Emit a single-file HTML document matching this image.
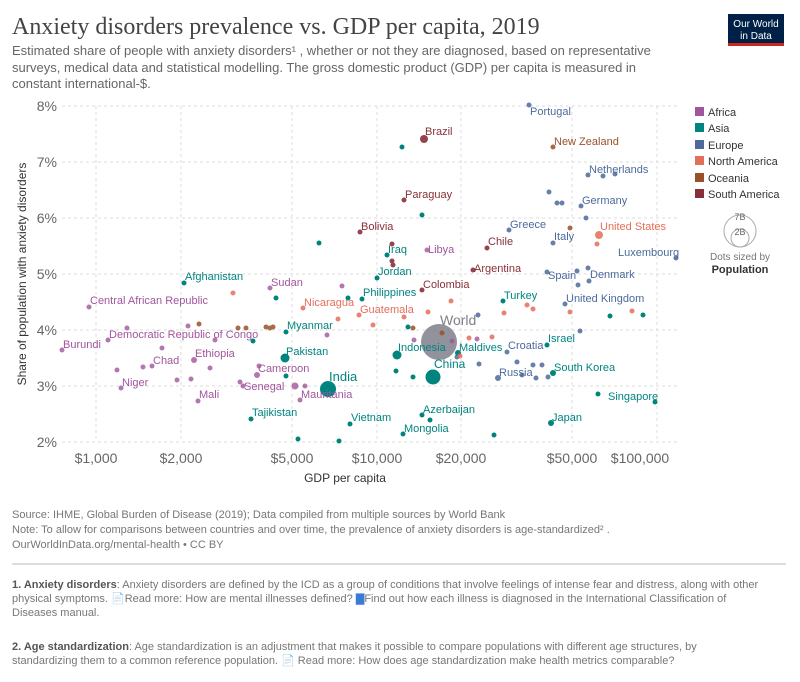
<!DOCTYPE html>
<html><head><meta charset="utf-8"><style>
body{margin:0;background:#fff;width:800px;height:677px;overflow:hidden;font-family:"Liberation Sans",sans-serif}
svg text{font-family:"Liberation Sans",sans-serif}
</style></head><body>
<svg width="800" height="677" viewBox="0 0 800 677" xmlns="http://www.w3.org/2000/svg">
<text x="12" y="34" style="font-family:'Liberation Serif',serif" font-size="24" fill="#444">Anxiety disorders prevalence vs. GDP per capita, 2019</text>
<text font-size="13" fill="#666"><tspan x="12" y="55">Estimated share of people with anxiety disorders¹ , whether or not they are diagnosed, based on representative</tspan><tspan x="12" y="72">surveys, medical data and statistical modelling. The gross domestic product (GDP) per capita is measured in</tspan><tspan x="12" y="88">constant international-$.</tspan></text>
<rect x="728" y="14" width="56" height="30" fill="#002147"/><rect x="728" y="43" width="56" height="3" fill="#ce261e"/>
<text x="756" y="27" font-size="10" fill="#fff" text-anchor="middle">Our World</text><text x="756" y="39" font-size="10" fill="#fff" text-anchor="middle">in Data</text>
<g stroke="#ddd" stroke-dasharray="3,3" stroke-width="1">
<line x1="62" x2="677" y1="106" y2="106"/><line x1="62" x2="677" y1="162" y2="162"/><line x1="62" x2="677" y1="218" y2="218"/><line x1="62" x2="677" y1="274" y2="274"/><line x1="62" x2="677" y1="330" y2="330"/><line x1="62" x2="677" y1="386" y2="386"/><line x1="62" x2="677" y1="442" y2="442"/>
<line x1="96" x2="96" y1="106" y2="442"/><line x1="181" x2="181" y1="106" y2="442"/><line x1="292" x2="292" y1="106" y2="442"/><line x1="377" x2="377" y1="106" y2="442"/><line x1="461" x2="461" y1="106" y2="442"/><line x1="572" x2="572" y1="106" y2="442"/><line x1="657" x2="657" y1="106" y2="442"/>
</g>
<g font-size="14" fill="#666" text-anchor="end"><text x="57" y="111">8%</text><text x="57" y="167">7%</text><text x="57" y="223">6%</text><text x="57" y="279">5%</text><text x="57" y="335">4%</text><text x="57" y="391">3%</text><text x="57" y="447">2%</text></g>
<g font-size="14" fill="#666" text-anchor="middle"><text x="96" y="463">$1,000</text><text x="181" y="463">$2,000</text><text x="292" y="463">$5,000</text><text x="377" y="463">$10,000</text><text x="461" y="463">$20,000</text><text x="572" y="463">$50,000</text><text x="640" y="463">$100,000</text></g>
<text x="345" y="482" font-size="12" fill="#333" text-anchor="middle">GDP per capita</text>
<text transform="translate(26,274) rotate(-90)" font-size="12" fill="#333" text-anchor="middle">Share of population with anxiety disorders</text>
<circle cx="439" cy="342" r="18" fill="#7f7f8c" opacity="0.85"/>
<g fill="#a2559c" opacity="0.8"><circle cx="89" cy="307" r="2.5"/><circle cx="62" cy="350" r="2.5"/><circle cx="121" cy="388" r="2.5"/><circle cx="152" cy="366" r="2.5"/><circle cx="108" cy="340" r="2.5"/><circle cx="194" cy="360" r="3"/><circle cx="198" cy="401" r="2.5"/><circle cx="243" cy="386" r="2.5"/><circle cx="257" cy="375" r="3"/><circle cx="300" cy="400" r="2.5"/><circle cx="270" cy="288" r="2.5"/><circle cx="427" cy="250" r="2.5"/><circle cx="127" cy="328" r="2.5"/><circle cx="143" cy="367" r="2.5"/><circle cx="162" cy="348" r="2.5"/><circle cx="117" cy="370" r="2.5"/><circle cx="177" cy="380" r="2.5"/><circle cx="191" cy="379" r="2.5"/><circle cx="188" cy="326" r="2.5"/><circle cx="215" cy="340" r="2.5"/><circle cx="210" cy="368" r="2.5"/><circle cx="240" cy="382" r="2.5"/><circle cx="259" cy="366" r="2.5"/><circle cx="295" cy="386" r="3.5"/><circle cx="305" cy="386" r="2.5"/><circle cx="327" cy="335" r="2.5"/><circle cx="342" cy="286" r="2.5"/><circle cx="414" cy="340" r="2.5"/><circle cx="452" cy="341" r="2.5"/><circle cx="477" cy="339" r="2.5"/></g>
<g fill="#00847e"><circle cx="184" cy="283" r="2.5"/><circle cx="286" cy="332" r="2.5"/><circle cx="285" cy="358" r="4.5"/><circle cx="286" cy="376" r="2.5"/><circle cx="328" cy="389" r="8"/><circle cx="251" cy="419" r="2.5"/><circle cx="350" cy="424" r="2.5"/><circle cx="298" cy="439" r="2.5"/><circle cx="339" cy="441" r="2.5"/><circle cx="253" cy="341" r="2.5"/><circle cx="276" cy="298" r="2.5"/><circle cx="348" cy="298" r="2.5"/><circle cx="362" cy="299" r="2.5"/><circle cx="319" cy="243" r="2.5"/><circle cx="377" cy="278" r="2.5"/><circle cx="387" cy="255" r="2.5"/><circle cx="397" cy="355" r="4.5"/><circle cx="396" cy="371" r="2.5"/><circle cx="433" cy="377" r="7.5"/><circle cx="422" cy="415" r="2.5"/><circle cx="403" cy="434" r="2.5"/><circle cx="430" cy="420" r="2.5"/><circle cx="494" cy="435" r="2.5"/><circle cx="551" cy="423" r="3"/><circle cx="598" cy="394" r="2.5"/><circle cx="655" cy="402" r="2.5"/><circle cx="553" cy="373" r="3"/><circle cx="547" cy="345" r="2.5"/><circle cx="503" cy="301" r="2.5"/><circle cx="402" cy="147" r="2.5"/><circle cx="422" cy="215" r="2.5"/><circle cx="458" cy="353" r="3"/><circle cx="413" cy="377" r="2.5"/><circle cx="610" cy="316" r="2.5"/><circle cx="643" cy="315" r="2.5"/><circle cx="408" cy="327" r="2.5"/></g>
<g fill="#4c6a9c" opacity="0.85"><circle cx="529" cy="105" r="2.5"/><circle cx="588" cy="175" r="2.5"/><circle cx="603" cy="176" r="2.5"/><circle cx="615" cy="174" r="2.5"/><circle cx="581" cy="206" r="2.5"/><circle cx="549" cy="192" r="2.5"/><circle cx="557" cy="203" r="2.5"/><circle cx="562" cy="203" r="2.5"/><circle cx="586" cy="218" r="2.5"/><circle cx="509" cy="230" r="2.5"/><circle cx="553" cy="243" r="2.5"/><circle cx="676" cy="258" r="2.5"/><circle cx="547" cy="272" r="2.5"/><circle cx="577" cy="271" r="2.5"/><circle cx="588" cy="268" r="2.5"/><circle cx="589" cy="281" r="2.5"/><circle cx="578" cy="285" r="2.5"/><circle cx="565" cy="304" r="2.5"/><circle cx="580" cy="331" r="2.5"/><circle cx="507" cy="352" r="2.5"/><circle cx="498" cy="378" r="3"/><circle cx="522" cy="375" r="2.5"/><circle cx="517" cy="362" r="2.5"/><circle cx="533" cy="365" r="2.5"/><circle cx="542" cy="365" r="2.5"/><circle cx="548" cy="377" r="2.5"/><circle cx="536" cy="378" r="2.5"/><circle cx="478" cy="315" r="2.5"/><circle cx="479" cy="364" r="2.5"/><circle cx="457" cy="357" r="2.5"/></g>
<g fill="#e56e5a" opacity="0.85"><circle cx="599" cy="235" r="4"/><circle cx="597" cy="244" r="2.5"/><circle cx="570" cy="312" r="2.5"/><circle cx="632" cy="311" r="2.5"/><circle cx="504" cy="313" r="2.5"/><circle cx="527" cy="305" r="2.5"/><circle cx="533" cy="309" r="2.5"/><circle cx="359" cy="315" r="2.5"/><circle cx="303" cy="308" r="2.5"/><circle cx="233" cy="293" r="2.5"/><circle cx="404" cy="317" r="2.5"/><circle cx="373" cy="325" r="2.5"/><circle cx="451" cy="301" r="2.5"/><circle cx="469" cy="338" r="2.5"/><circle cx="492" cy="337" r="2.5"/><circle cx="338" cy="319" r="2.5"/><circle cx="428" cy="312" r="2.5"/><circle cx="460" cy="356" r="2.5"/></g>
<g fill="#9a5129" opacity="0.85"><circle cx="553" cy="147" r="2.5"/><circle cx="570" cy="228" r="2.5"/><circle cx="270" cy="328" r="2.5"/><circle cx="246" cy="328" r="2.5"/><circle cx="273" cy="327" r="2.5"/><circle cx="266" cy="327" r="2.5"/><circle cx="238" cy="328" r="2.5"/><circle cx="199" cy="324" r="2.5"/><circle cx="442" cy="333" r="2.5"/><circle cx="413" cy="328" r="2.5"/></g>
<g fill="#883039" opacity="0.9"><circle cx="424" cy="139" r="4"/><circle cx="404" cy="200" r="2.5"/><circle cx="360" cy="232" r="2.5"/><circle cx="487" cy="248" r="2.5"/><circle cx="473" cy="270" r="2.5"/><circle cx="422" cy="290" r="2.5"/><circle cx="392" cy="244" r="2.5"/><circle cx="393" cy="265" r="2.5"/><circle cx="392" cy="261" r="2.5"/></g>
<g font-size="11">
<g fill="#a2559c"><text x="90" y="304">Central African Republic</text><text x="63" y="348">Burundi</text><text x="122" y="386">Niger</text><text x="153" y="364">Chad</text><text x="109" y="338">Democratic Republic of Congo</text><text x="195" y="357">Ethiopia</text><text x="199" y="398">Mali</text><text x="244" y="390">Senegal</text><text x="258" y="372">Cameroon</text><text x="301" y="398">Mauritania</text><text x="271" y="286">Sudan</text><text x="428" y="253">Libya</text></g>
<g fill="#00847e"><text x="185" y="280">Afghanistan</text><text x="287" y="329">Myanmar</text><text x="286" y="355">Pakistan</text><text x="329" y="381" font-size="13">India</text><text x="252" y="416">Tajikistan</text><text x="351" y="421">Vietnam</text><text x="388" y="253">Iraq</text><text x="378" y="275">Jordan</text><text x="363" y="296">Philippines</text><text x="398" y="351">Indonesia</text><text x="434" y="368" font-size="12">China</text><text x="423" y="413">Azerbaijan</text><text x="404" y="432">Mongolia</text><text x="552" y="421">Japan</text><text x="608" y="400">Singapore</text><text x="554" y="371">South Korea</text><text x="548" y="342">Israel</text><text x="504" y="299">Turkey</text><text x="459" y="351">Maldives</text></g>
<g fill="#4c6a9c"><text x="530" y="115">Portugal</text><text x="589" y="173">Netherlands</text><text x="582" y="204">Germany</text><text x="510" y="228">Greece</text><text x="554" y="240">Italy</text><text x="618" y="256">Luxembourg</text><text x="548" y="279">Spain</text><text x="590" y="278">Denmark</text><text x="566" y="302">United Kingdom</text><text x="508" y="349">Croatia</text><text x="499" y="376">Russia</text></g>
<g fill="#e56e5a"><text x="600" y="230">United States</text><text x="304" y="306">Nicaragua</text><text x="360" y="313">Guatemala</text></g>
<g fill="#9a5129"><text x="554" y="145">New Zealand</text></g>
<g fill="#883039"><text x="425" y="135">Brazil</text><text x="405" y="198">Paraguay</text><text x="361" y="230">Bolivia</text><text x="488" y="245">Chile</text><text x="474" y="272">Argentina</text><text x="423" y="288">Colombia</text></g>
<text x="440" y="325" font-size="14" fill="#7f7f8c">World</text>
</g>
<g font-size="11" fill="#333">
<rect x="695" y="107" width="9" height="9" fill="#a2559c"/><text x="708" y="116">Africa</text>
<rect x="695" y="123" width="9" height="9" fill="#00847e"/><text x="708" y="132">Asia</text>
<rect x="695" y="140" width="9" height="9" fill="#4c6a9c"/><text x="708" y="149">Europe</text>
<rect x="695" y="156" width="9" height="9" fill="#e56e5a"/><text x="708" y="165">North America</text>
<rect x="695" y="173" width="9" height="9" fill="#9a5129"/><text x="708" y="182">Oceania</text>
<rect x="695" y="189" width="9" height="9" fill="#883039"/><text x="708" y="198">South America</text>
</g>
<circle cx="740" cy="231" r="16" fill="none" stroke="#aaa"/><circle cx="740" cy="238" r="9" fill="none" stroke="#aaa"/>
<text x="740" y="220" font-size="9" fill="#666" text-anchor="middle">7B</text><text x="740" y="235" font-size="9" fill="#666" text-anchor="middle">2B</text>
<text x="740" y="260" font-size="10" fill="#777" text-anchor="middle">Dots sized by</text>
<text x="740" y="273" font-size="11" font-weight="bold" fill="#333" text-anchor="middle">Population</text>
<g font-size="11" fill="#777"><text x="12" y="518">Source: IHME, Global Burden of Disease (2019); Data compiled from multiple sources by World Bank</text><text x="12" y="533">Note: To allow for comparisons between countries and over time, the prevalence of anxiety disorders is age-standardized² .</text><text x="12" y="548">OurWorldInData.org/mental-health • CC BY</text></g>
<line x1="12" x2="786" y1="564" y2="564" stroke="#bbb"/>
<g font-size="11" fill="#777"><text x="12" y="588"><tspan font-weight="bold" fill="#555">1. Anxiety disorders</tspan>: Anxiety disorders are defined by the ICD as a group of conditions that involve feelings of intense fear and distress, along with other</text><text x="12" y="602">physical symptoms. 📄Read more: How are mental illnesses defined? <tspan fill="#3a7bd5">▇</tspan>Find out how each illness is diagnosed in the International Classification of</text><text x="12" y="616">Diseases manual.</text>
<text x="12" y="650"><tspan font-weight="bold" fill="#555">2. Age standardization</tspan>: Age standardization is an adjustment that makes it possible to compare populations with different age structures, by</text><text x="12" y="664">standardizing them to a common reference population. 📄 Read more: How does age standardization make health metrics comparable?</text></g>
</svg>
</body></html>
